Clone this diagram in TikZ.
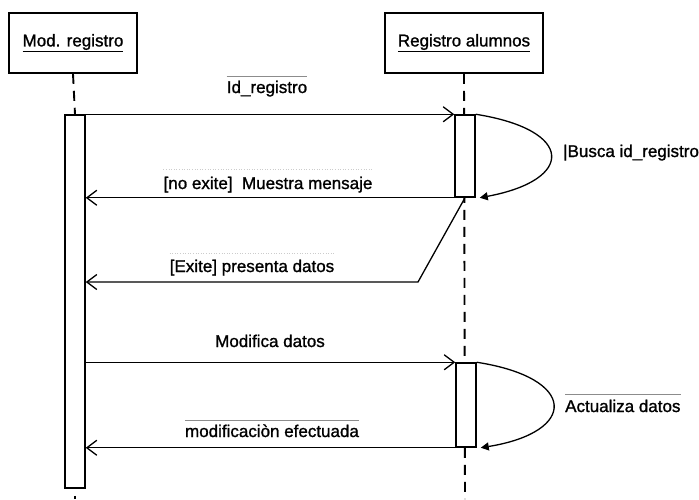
\documentclass[tikz,border=0pt]{standalone}
\usepackage{fontspec}
\setmainfont{Liberation Sans}
\newfontfamily\diagfont{Liberation Sans}[BoldFont={Liberation Sans}, BoldFeatures={FakeBold=1.2}]
\usetikzlibrary{arrows.meta}
\begin{document}
\begin{tikzpicture}[x=1pt,y=-1pt,
  every node/.style={font=\diagfont\bfseries\fontsize{17}{20}\selectfont},
  lbl/.style={inner sep=0pt, anchor=base},
  obj/.style={draw, line width=1.6pt, minimum height=60pt, inner sep=0pt},
  act/.style={draw, fill=white, line width=1.5pt, inner sep=0pt, minimum width=20pt},
  life/.style={line width=1.9pt, dash pattern=on 10pt off 7pt},
  msg/.style={line width=1.3pt, -{Straight Barb[length=10pt,width=15pt,line width=1.3pt]}},
  selfmsg/.style={line width=1.3pt, -{Triangle[length=8pt,width=8pt]}},
  ovl/.style={black!45, line width=0.6pt},
  faint/.style={black!20, line width=0.6pt, dotted}
]
\useasboundingbox (0,0) rectangle (699,499);

% objects
\node[obj, minimum width=128pt] (mod) at (73,43) {\underline{Mod. registro}};
\node[obj, minimum width=158pt] (reg) at (464,43) {\underline{Registro alumnos}};

% lifelines
\coordinate (end1) at (75,499);
\coordinate (end2) at (465,499);
\draw[life] (reg.south) -- (end2);

% activation bars
\node[act, minimum height=373pt] (a1) at (75,301.5) {};
\node[act, minimum height=82pt] (a2) at (465,156) {};
\node[act, minimum height=84pt] (a3) at (466,405) {};
\draw[life] (mod.south) -- (a1.north);
\draw[life] (a1.south) ++(0,7) -- (end1);

% messages
\draw[msg] (a1.north east) -- (a2.north west);
\node[lbl] (l1) at (267,93) {Id\_registro};
\draw[ovl] ([yshift=4pt]l1.north west) -- ([yshift=4pt]l1.north east);

\draw[selfmsg] (a2.north east) .. controls (575,130) and (575,180) .. ([xshift=4pt]a2.south east);
\node[lbl, anchor=base west] (l2) at (563,157) {|Busca id\_registro};

\draw[msg] (a2.south west) -- (a1.east |- a2.south west);
\node[lbl] (l3) at (268,189) {[no exite]\ \ Muestra mensaje};
\draw[faint] ([yshift=7pt]l3.north west) -- ([yshift=7pt]l3.north east);

\coordinate (bend) at (418,282);
\draw[msg] (a2.south) -- (bend) -- (a1.east |- bend);
\node[lbl] (l4) at (252,272) {[Exite] presenta datos};
\draw[faint] ([yshift=6pt]l4.north west) -- ([yshift=6pt]l4.north east);

\draw[msg] (a1.east |- a3.north) -- (a3.north west);
\node[lbl] (l5) at (270,347) {Modifica datos};

\draw[selfmsg] (a3.north east) .. controls (578,378) and (578,432) .. ([xshift=4pt]a3.south east);
\node[lbl, anchor=base west] (l6) at (565,412) {Actualiza datos};
\draw[ovl] ([yshift=5pt]l6.north west) -- ([yshift=5pt]l6.north east);

\draw[msg] (a3.south west) -- (a1.east |- a3.south west);
\node[lbl] (l7) at (272,437) {modificaciòn efectuada};
\draw[ovl] ([yshift=4pt]l7.north west) -- ([yshift=4pt]l7.north east);
\end{tikzpicture}
\end{document}
